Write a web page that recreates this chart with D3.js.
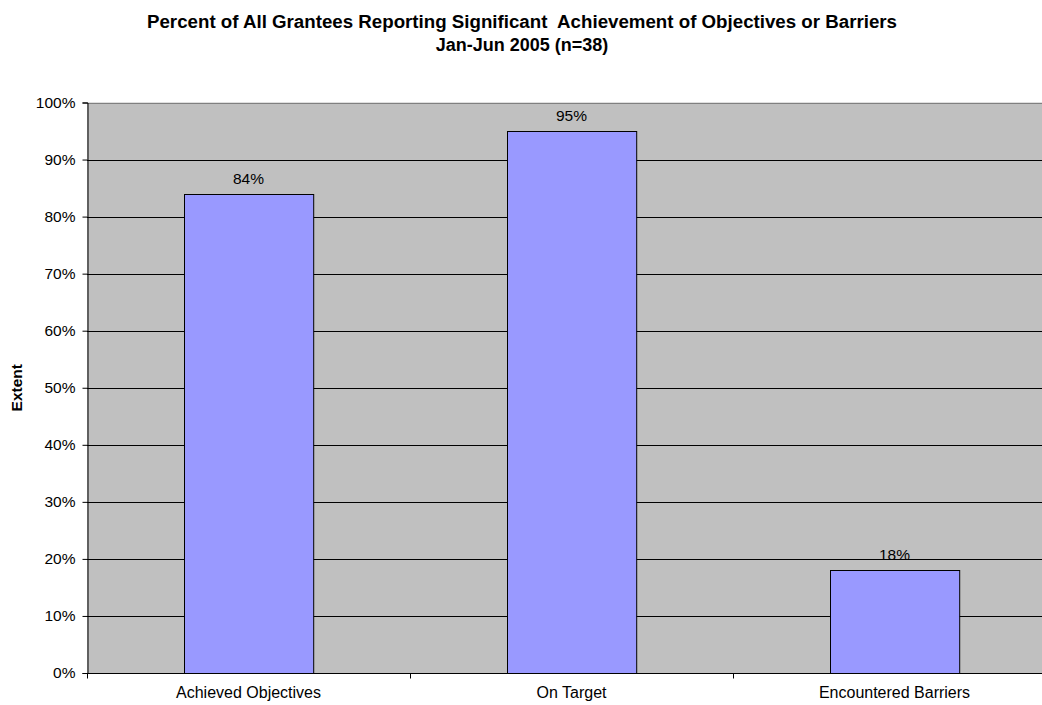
<!DOCTYPE html>
<html>
<head>
<meta charset="utf-8">
<script src="https://cdn.jsdelivr.net/npm/d3@7"></script>
<style>
  body { margin: 0; background: #fff; }
  svg { display: block; font-family: "Liberation Sans", Arial, sans-serif; }
</style>
</head>
<body>
<div id="chart"></div>
<script>
// categories and values
const categories = ["Achieved Objectives", "On Target", "Encountered Barriers"];
const values = [0.84, 0.95, 0.18];
const yTicks = [0, 0.1, 0.2, 0.3, 0.4, 0.5, 0.6, 0.7, 0.8, 0.9, 1.0];
const titleLines = ["Percent of All Grantees Reporting Significant  Achievement of Objectives or Barriers", "Jan-Jun 2005 (n=38)"];

const width = 1042;
const height = 705;
// plot area runs a bit past the right edge of the page
const margin = { top: 102.5, left: 87, bottom: 32 };
const plotW = 969;
const plotH = height - margin.top - margin.bottom;

const svg = d3.select("#chart").append("svg")
    .attr("width", width)
    .attr("height", height);

const x = d3.scaleBand()
    .domain(categories)
    .range([margin.left, margin.left + plotW])
    .paddingInner(0.6)
    .paddingOuter(0.3);

const y = d3.scaleLinear()
    .domain([0, 1])
    .range([margin.top + plotH, margin.top]);

// background
svg.append("rect")
    .attr("x", margin.left)
    .attr("y", margin.top)
    .attr("width", plotW)
    .attr("height", plotH)
    .attr("fill", "#c0c0c0");

// gridlines
svg.append("g")
    .selectAll("line")
    .data(yTicks.filter(d => d > 0))
    .join("line")
    .attr("x1", margin.left)
    .attr("x2", margin.left + plotW)
    .attr("y1", d => Math.round(y(d)) + 0.5)
    .attr("y2", d => Math.round(y(d)) + 0.5)
    .attr("stroke", d => d === 1 ? "#808080" : "#000")
    .attr("stroke-width", 1);

// bars
svg.append("g")
    .selectAll("rect")
    .data(values)
    .join("rect")
    .attr("x", (d, i) => Math.round(x(categories[i])) + 0.5)
    .attr("y", d => Math.round(y(d)) + 0.5)
    .attr("width", x.bandwidth())
    .attr("height", d => Math.round(y(0)) - Math.round(y(d)))
    .attr("fill", "#9999ff")
    .attr("stroke", "#000")
    .attr("stroke-width", 1);

// value labels
svg.append("g")
    .selectAll("text")
    .data(values)
    .join("text")
    .attr("x", (d, i) => x(categories[i]) + x.bandwidth() / 2)
    .attr("y", d => y(d) - 10)
    .attr("text-anchor", "middle")
    .attr("font-size", 15.5)
    .text(d => d3.format(".0%")(d));

// y axis
const yAxis = svg.append("g")
    .attr("transform", `translate(${margin.left + 0.5},0)`)
    .call(d3.axisLeft(y).tickValues(yTicks).tickFormat(d3.format(".0%")).tickSize(5).tickPadding(7));
yAxis.select(".domain").attr("stroke", "#000");
yAxis.selectAll("text").attr("font-size", 15.5).attr("fill", "#000").attr("font-family", null);

// x axis, ticks between categories
const xAxis = svg.append("g")
    .attr("transform", `translate(0,${Math.round(y(0)) + 0.5})`);
xAxis.append("line")
    .attr("x1", margin.left)
    .attr("x2", margin.left + plotW)
    .attr("stroke", "#000");
xAxis.selectAll(".sep")
    .data(d3.range(0, categories.length + 1))
    .join("line")
    .attr("class", "sep")
    .attr("x1", i => Math.round(margin.left + i * plotW / categories.length) + 0.5)
    .attr("x2", i => Math.round(margin.left + i * plotW / categories.length) + 0.5)
    .attr("y1", 0)
    .attr("y2", 5)
    .attr("stroke", "#000");
xAxis.selectAll(".cat")
    .data(categories)
    .join("text")
    .attr("class", "cat")
    .attr("x", d => x(d) + x.bandwidth() / 2)
    .attr("y", 24)
    .attr("text-anchor", "middle")
    .attr("font-size", 16)
    .text(d => d);

// y axis title
svg.append("text")
    .attr("transform", `translate(22,${margin.top + plotH / 2}) rotate(-90)`)
    .attr("text-anchor", "middle")
    .attr("font-size", 15.5)
    .attr("font-weight", "bold")
    .text("Extent");

// chart title, first line fitted to its width
const title = svg.append("g")
    .selectAll("text")
    .data(titleLines)
    .join("text")
    .attr("x", 522)
    .attr("y", (d, i) => 28 + i * 23)
    .attr("text-anchor", "middle")
    .attr("font-size", 18)
    .attr("font-weight", "bold")
    .style("white-space", "pre")
    .text(d => d);
title.filter((d, i) => i === 0)
    .attr("textLength", 750)
    .attr("lengthAdjust", "spacingAndGlyphs");
</script>
</body>
</html>
